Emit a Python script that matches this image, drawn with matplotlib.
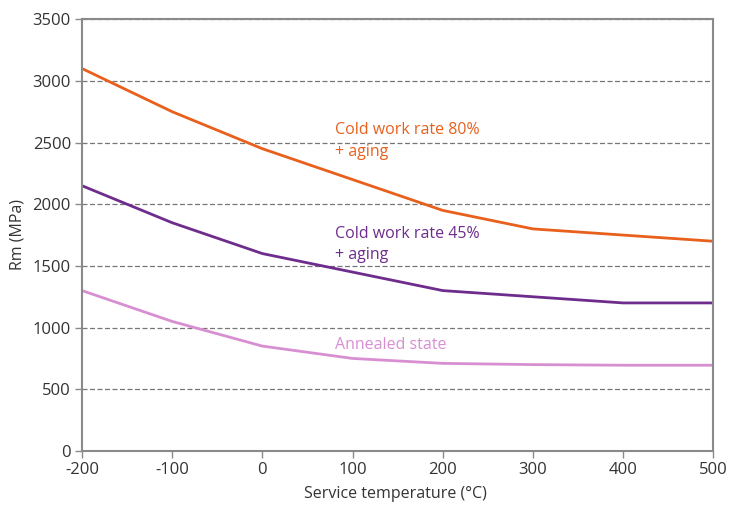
import matplotlib.pyplot as plt

plt.rcParams['font.family'] = ['Open Sans', 'DejaVu Sans']
plt.rcParams['axes.unicode_minus'] = False

temps = [-200, -100, 0, 100, 200, 300, 400, 500]
rm_cw80 = [3100, 2750, 2450, 2200, 1950, 1800, 1750, 1700]
rm_cw45 = [2150, 1850, 1600, 1450, 1300, 1250, 1200, 1200]
rm_annealed = [1300, 1050, 850, 750, 710, 700, 695, 695]

c_orange = '#e8601c'
c_purple = '#6e2c8c'
c_pink = '#d88fd2'
c_axis = '#8a8a8a'
c_text = '#333333'

fig = plt.figure(figsize=(7.29, 5.05), dpi=100)
ax = fig.add_axes([0.1125, 0.107, 0.866, 0.855])

ax.plot(temps, rm_cw80, color=c_orange, linewidth=2)
ax.plot(temps, rm_cw45, color=c_purple, linewidth=2)
ax.plot(temps, rm_annealed, color=c_pink, linewidth=2)

# curve labels, one text per line
ax.text(80, 2600, 'Cold work rate 80%', color=c_orange, fontsize=11.5, va='center')
ax.text(80, 2425, '+ aging', color=c_orange, fontsize=11.5, va='center')
ax.text(80, 1760, 'Cold work rate 45%', color=c_purple, fontsize=11.5, va='center')
ax.text(80, 1585, '+ aging', color=c_purple, fontsize=11.5, va='center')
ax.text(80, 855, 'Annealed state', color=c_pink, fontsize=11.5, va='center')

ax.set_xlim(-200, 500)
ax.set_ylim(0, 3500)
ax.set_xticks(range(-200, 501, 100))
ax.set_yticks(range(0, 3501, 500))

ax.yaxis.grid(True, linestyle=(0, (4, 2)), color='#777777', linewidth=0.9)
ax.set_axisbelow(True)

for s in ax.spines.values():
    s.set_color(c_axis)
    s.set_linewidth(1.5)

ax.tick_params(axis='both', colors=c_axis, length=5, width=1, labelsize=12,
               labelcolor=c_text)
ax.tick_params(axis='x', pad=3)
ax.tick_params(axis='y', pad=3)

# axis titles placed on the figure
fig.text(395 / 729, 1 - 494 / 505, 'Service temperature (°C)', fontsize=11.5,
         color=c_text, ha='center', va='center')
fig.text(17 / 729, 1 - 235 / 505, 'Rm (MPa)', fontsize=11.5, color=c_text,
         ha='center', va='center', rotation=90)

fig.savefig('out.png', dpi=100)
